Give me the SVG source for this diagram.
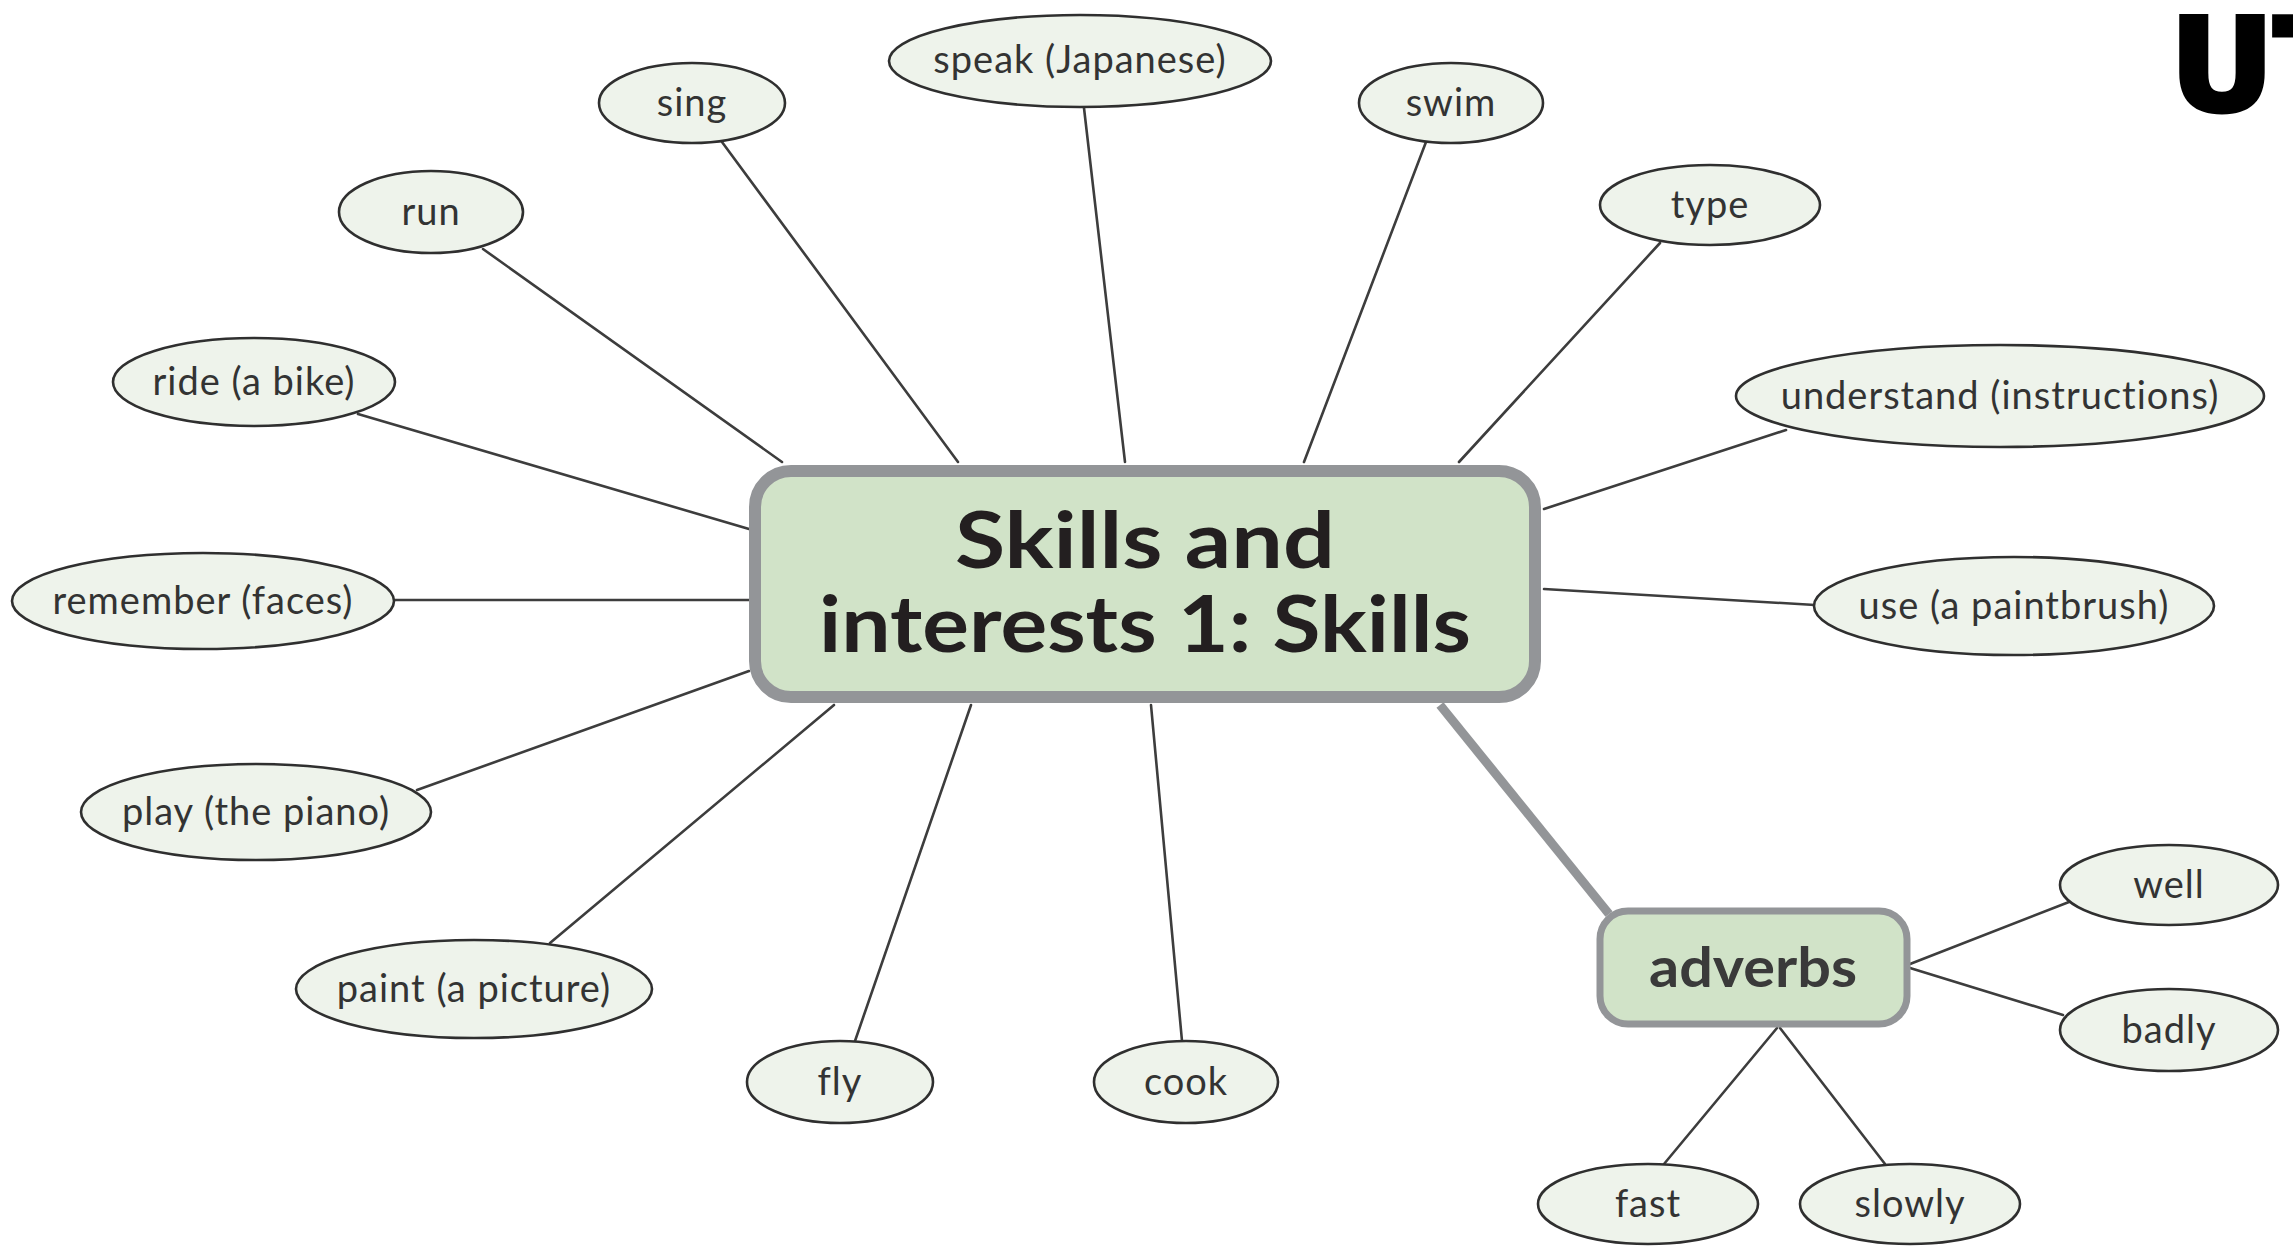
<svg xmlns="http://www.w3.org/2000/svg" width="2293" height="1247" viewBox="0 0 2293 1247">
<style>
.bg{fill:#ffffff}
.line{stroke:#3d3d3d;stroke-width:2.6;fill:none;stroke-linecap:round}
.thick{stroke:#939598;stroke-width:9;fill:none}
.oval{fill:#eef3eb;stroke:#2f2f2f;stroke-width:2.6}
.lbl{font-family:Lato,"Open Sans",sans-serif;font-size:38px;fill:#333333;text-anchor:middle;letter-spacing:1px}
.main{fill:#d1e3c8;stroke:#939598;stroke-width:12}
.sub{fill:#d1e3c8;stroke:#939598;stroke-width:7}
.title{font-family:Lato,"Open Sans",sans-serif;font-weight:bold;font-size:78px;fill:#231f20;text-anchor:middle}
.subt{font-family:Lato,"Open Sans",sans-serif;font-weight:bold;font-size:56px;fill:#3a3a3a;text-anchor:middle}
</style>
<rect class="bg" x="0" y="0" width="2293" height="1247"/>
<g id="connectors">
<line class="line" x1="722" y1="142" x2="958" y2="462"/>
<line class="line" x1="1084" y1="108" x2="1125" y2="462"/>
<line class="line" x1="1426" y1="142" x2="1304" y2="462"/>
<line class="line" x1="483" y1="249" x2="782" y2="462"/>
<line class="line" x1="1660" y1="243" x2="1459" y2="462"/>
<line class="line" x1="358" y1="414" x2="749" y2="529"/>
<line class="line" x1="1786" y1="430" x2="1544" y2="509"/>
<line class="line" x1="395" y1="600" x2="749" y2="600"/>
<line class="line" x1="1815" y1="605" x2="1544" y2="589"/>
<line class="line" x1="417" y1="790" x2="749" y2="671"/>
<line class="line" x1="550" y1="943" x2="834" y2="705"/>
<line class="line" x1="855" y1="1041" x2="971" y2="705"/>
<line class="line" x1="1182" y1="1041" x2="1151" y2="705"/>
<line class="thick" x1="1440" y1="705" x2="1609" y2="914"/>
<line class="line" x1="1910" y1="964" x2="2069" y2="902"/>
<line class="line" x1="1910" y1="968" x2="2063" y2="1015"/>
<line class="line" x1="1777" y1="1028" x2="1664" y2="1164"/>
<line class="line" x1="1780" y1="1028" x2="1885" y2="1164"/>
</g>
<g id="main">
<rect class="main" x="755" y="471" width="780" height="226" rx="36"/>
<text class="title" x="1145" y="568" textLength="380" lengthAdjust="spacingAndGlyphs">Skills and</text>
<text class="title" x="1145" y="652" textLength="652" lengthAdjust="spacingAndGlyphs">interests 1: Skills</text>
</g>
<g id="adverbs">
<rect class="sub" x="1600" y="911" width="307" height="113" rx="28"/>
<text class="subt" x="1753" y="987" textLength="208" lengthAdjust="spacingAndGlyphs">adverbs</text>
</g>
<g id="sing"><ellipse class="oval" cx="692" cy="103" rx="93" ry="40"/><text class="lbl" x="692" y="116">sing</text></g>
<g id="speak"><ellipse class="oval" cx="1080" cy="61" rx="191" ry="46"/><text class="lbl" x="1080" y="73">speak (Japanese)</text></g>
<g id="swim"><ellipse class="oval" cx="1451" cy="103" rx="92" ry="40"/><text class="lbl" x="1451" y="116">swim</text></g>
<g id="run"><ellipse class="oval" cx="431" cy="212" rx="92" ry="41"/><text class="lbl" x="431" y="225">run</text></g>
<g id="type"><ellipse class="oval" cx="1710" cy="205" rx="110" ry="40"/><text class="lbl" x="1710" y="218">type</text></g>
<g id="ride"><ellipse class="oval" cx="254" cy="382" rx="141" ry="44"/><text class="lbl" x="254" y="395">ride (a bike)</text></g>
<g id="understand"><ellipse class="oval" cx="2000" cy="396" rx="264" ry="51"/><text class="lbl" x="2000" y="409">understand (instructions)</text></g>
<g id="remember"><ellipse class="oval" cx="203" cy="601" rx="191" ry="48"/><text class="lbl" x="203" y="614">remember (faces)</text></g>
<g id="use"><ellipse class="oval" cx="2014" cy="606" rx="200" ry="49"/><text class="lbl" x="2014" y="619">use (a paintbrush)</text></g>
<g id="play"><ellipse class="oval" cx="256" cy="812" rx="175" ry="48"/><text class="lbl" x="256" y="825">play (the piano)</text></g>
<g id="paint"><ellipse class="oval" cx="474" cy="989" rx="178" ry="49"/><text class="lbl" x="474" y="1002">paint (a picture)</text></g>
<g id="fly"><ellipse class="oval" cx="840" cy="1082" rx="93" ry="41"/><text class="lbl" x="840" y="1095">fly</text></g>
<g id="cook"><ellipse class="oval" cx="1186" cy="1082" rx="92" ry="41"/><text class="lbl" x="1186" y="1095">cook</text></g>
<g id="well"><ellipse class="oval" cx="2169" cy="885" rx="109" ry="40"/><text class="lbl" x="2169" y="898">well</text></g>
<g id="badly"><ellipse class="oval" cx="2169" cy="1030" rx="109" ry="41"/><text class="lbl" x="2169" y="1043">badly</text></g>
<g id="fast"><ellipse class="oval" cx="1648" cy="1204" rx="110" ry="40"/><text class="lbl" x="1648" y="1217">fast</text></g>
<g id="slowly"><ellipse class="oval" cx="1910" cy="1204" rx="110" ry="40"/><text class="lbl" x="1910" y="1217">slowly</text></g>
<text x="2170" y="110" font-family="'DejaVu Sans',sans-serif" font-weight="bold" font-size="128" fill="#000000" stroke="#000000" stroke-width="5">UT</text>
</svg>
